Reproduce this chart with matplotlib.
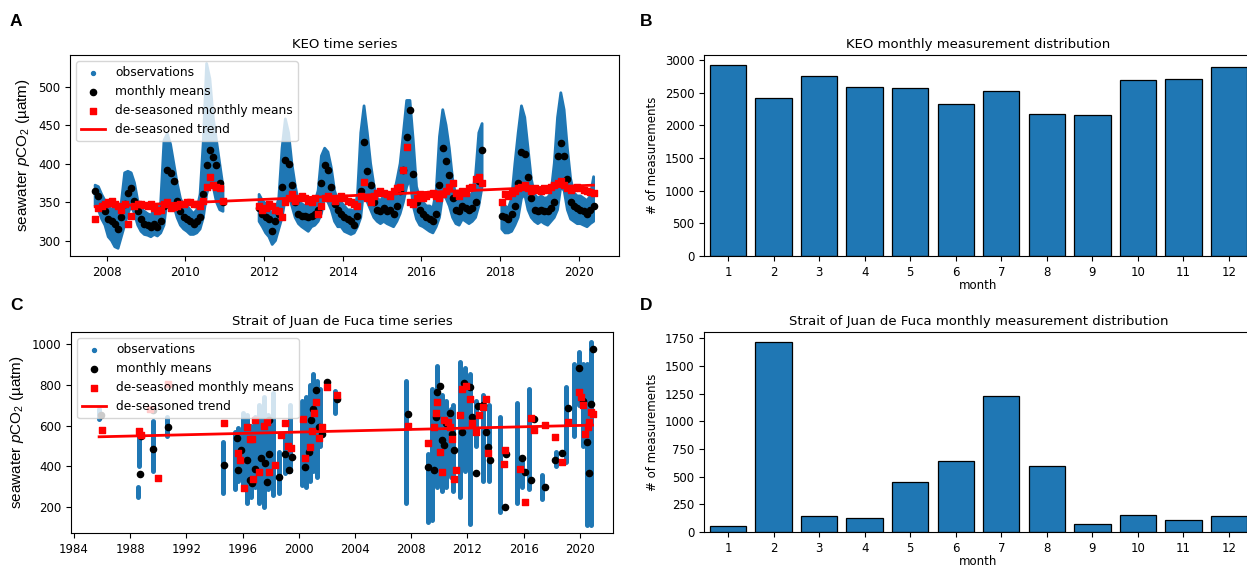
import numpy as np
import matplotlib.pyplot as plt
from matplotlib.ticker import MultipleLocator

plt.rcParams['font.family'] = 'DejaVu Sans'
plt.rcParams['font.size'] = 8.5
plt.rcParams['mathtext.fontset'] = 'custom'
plt.rcParams['mathtext.rm'] = 'Liberation Sans'
plt.rcParams['mathtext.it'] = 'Liberation Sans:italic'

N = np.nan

# ---- KEO: monthly values, one row per year (Jan..Dec), 2007-2020
keo_start_year = 2007
keo_mean = [
    N, N, N, N, N, N, N, N, 365, 358, 345, 338,
    328, 325, 322, 315, 330, 348, 362, 368, 352, 338, 328, 322,
    320, 318, 322, 318, 325, 345, 392, 388, 378, 352, 338, 330,
    328, 325, 322, 325, 330, 360, 398, 418, 408, 398, 375, 350,
    N, N, N, N, N, N, N, N, N, N, 342, 335,
    330, 328, 313, 325, 335, 370, 405, 400, 372, 350, 335, 332,
    332, 330, 332, 335, 340, 375, 398, 392, 370, 348, 340, 335,
    330, 328, 325, 320, 332, 365, 428, 390, 372, 350, 340, 338,
    342, 338, 340, 335, 345, 365, 392, 434, 470, 386, 350, 340,
    335, 330, 328, 325, 335, 372, 420, 403, 385, 355, 340, 338,
    345, 342, 340, 342, 350, 378, 418, N, N, N, N, N,
    332, 330, 328, 335, 345, 375, 415, 412, 382, 355, 340, 338,
    340, 338, 338, 342, 350, 410, 427, 410, 380, 350, 345, 342,
    340, 338, 335, 340, 345, N, N, N, N, N, N, N,
]
keo_obs_lo = [
    N, N, N, N, N, N, N, N, 345, 340, 328, 320,
    305, 300, 292, 290, 305, 320, 335, 345, 335, 320, 312, 308,
    307, 305, 308, 306, 310, 320, 355, 350, 345, 330, 320, 315,
    312, 308, 308, 310, 315, 330, 360, 375, 370, 350, 340, 338,
    N, N, N, N, N, N, N, N, N, N, 325, 318,
    310, 305, 295, 300, 315, 330, 355, 360, 345, 330, 322, 318,
    315, 312, 318, 320, 325, 335, 355, 350, 340, 325, 318, 318,
    312, 310, 308, 310, 318, 330, 370, 350, 340, 330, 325, 322,
    325, 322, 320, 318, 325, 335, 350, 370, 380, 345, 328, 320,
    318, 315, 312, 310, 318, 330, 360, 355, 345, 330, 322, 320,
    328, 325, 322, 325, 330, 345, 370, N, N, N, N, N,
    315, 310, 310, 312, 320, 330, 355, 360, 340, 330, 325, 322,
    325, 322, 320, 325, 330, 340, 370, 365, 340, 328, 325, 322,
    322, 320, 318, 322, 325, N, N, N, N, N, N, N,
]
keo_obs_hi = [
    N, N, N, N, N, N, N, N, 372, 370, 360, 352,
    345, 340, 345, 338, 350, 388, 390, 388, 375, 352, 342, 338,
    335, 333, 340, 338, 350, 430, 439, 425, 400, 375, 355, 345,
    345, 340, 335, 340, 360, 430, 530, 510, 460, 430, 400, 370,
    N, N, N, N, N, N, N, N, N, N, 360, 352,
    348, 345, 330, 340, 355, 420, 458, 440, 400, 372, 350, 348,
    345, 345, 348, 350, 365, 410, 420, 415, 395, 365, 352, 350,
    345, 340, 340, 338, 360, 440, 475, 440, 400, 372, 355, 352,
    358, 355, 360, 358, 378, 400, 440, 482, 482, 430, 370, 355,
    350, 345, 345, 342, 365, 435, 470, 450, 420, 380, 358, 352,
    360, 358, 356, 362, 385, 440, 452, N, N, N, N, N,
    348, 345, 342, 355, 400, 440, 475, 460, 420, 380, 360, 355,
    358, 355, 356, 362, 400, 460, 492, 470, 420, 380, 362, 358,
    358, 355, 352, 358, 383, N, N, N, N, N, N, N,
]
keo_deseason = [
    N, N, N, N, N, N, N, N, 328, 342, 345, 348,
    350, 352, 348, 345, 340, 347, 322, 332, 345, 348, 347, 346,
    345, 348, 342, 338, 340, 348, 350, 342, 343, 345, 347, 348,
    350, 350, 347, 348, 345, 352, 370, 383, 372, 370, 368, 352,
    N, N, N, N, N, N, N, N, N, N, 345, 340,
    342, 348, 345, 340, 338, 330, 350, 355, 360, 352, 355, 358,
    355, 352, 350, 355, 334, 345, 355, 358, 355, 352, 355, 358,
    355, 352, 350, 348, 345, 358, 376, 355, 350, 358, 362, 365,
    362, 360, 358, 365, 368, 370, 392, 421, 350, 348, 355, 360,
    355, 358, 360, 362, 358, 355, 360, 365, 370, 375, 362, 358,
    365, 362, 368, 370, 380, 383, 375, N, N, N, N, N,
    350, 360, 358, 362, 365, 368, 370, 372, 368, 365, 368, 366,
    365, 368, 366, 370, 372, 375, 378, 372, 368, 366, 368, 370,
    368, 366, 365, 363, 362, N, N, N, N, N, N, N,
]
keo_trend_year = [2007.71, 2020.37]
keo_trend = [344, 372]

# ---- Strait of Juan de Fuca: observation columns (time, low, high)
jdf_obs_year = [1985.8, 1988.6, 1988.65, 1989.6, 1990.6, 1994.6, 1995.5, 1995.7,
                1996.0, 1996.3, 1996.6, 1996.9, 1997.2, 1997.5, 1997.8, 1998.2,
                1998.6, 1999.0, 1999.4, 2000.2, 2000.5, 2000.8, 2001.0, 2001.3,
                2001.5, 2002.6, 2007.6, 2009.2, 2009.5, 2009.8, 2010.2, 2010.5,
                2010.8, 2011.0, 2011.5, 2011.8, 2012.2, 2012.6, 2013.1, 2013.5,
                2014.3, 2015.5, 2015.9, 2016.4, 2017.3, 2018.3, 2019.0, 2019.6,
                2019.9, 2020.2, 2020.5, 2020.8]
jdf_obs_lo = [630, 250, 400, 380, 550, 270, 290, 330,
              300, 220, 250, 300, 220, 200, 290, 260,
              270, 370, 380, 310, 300, 330, 380, 350,
              500, 660, 220, 130, 140, 300, 280, 300,
              350, 280, 250, 380, 120, 500, 330, 330,
              180, 220, 300, 290, 240, 400, 420, 550,
              700, 500, 115, 115]
jdf_obs_hi = [680, 300, 580, 620, 640, 520, 570, 590,
              660, 650, 600, 640, 700, 740, 650, 760,
              470, 560, 700, 720, 740, 800, 850, 820,
              780, 770, 820, 460, 780, 890, 750, 720,
              680, 700, 910, 880, 850, 720, 750, 700,
              640, 710, 420, 780, 360, 470, 790, 900,
              960, 900, 900, 1010]

jdf_mean_year = [1985.9, 1988.7, 1988.75, 1989.6, 1989.65, 1990.7, 1994.65, 1995.6,
                 1995.65, 1995.9, 1996.35, 1996.5, 1996.7, 1996.9, 1997.3, 1997.6,
                 1997.75, 1997.85, 1997.9, 1998.6, 1999.0, 1999.3, 1999.55, 2000.45,
                 2000.7, 2000.9, 2001.0, 2001.2, 2001.45, 2001.65, 2002.0, 2002.7,
                 2007.8, 2009.2, 2009.6, 2009.75, 2009.8, 2010.05, 2010.2, 2010.3,
                 2010.5, 2010.75, 2010.9, 2011.05, 2011.6, 2011.75, 2012.15, 2012.3,
                 2012.6, 2012.75, 2013.1, 2013.3, 2013.45, 2013.6, 2014.7, 2014.72,
                 2015.85, 2016.1, 2016.55, 2016.7, 2017.5, 2018.2, 2018.75, 2019.15,
                 2019.95, 2020.2, 2020.5, 2020.65, 2020.8, 2020.9]
jdf_mean = [650, 361, 550, 485, 675, 594, 406, 541,
            382, 480, 431, 333, 317, 390, 439, 415,
            325, 626, 463, 350, 463, 382, 447, 398,
            472, 626, 683, 776, 594, 558, 813, 732,
            655, 398, 382, 642, 764, 792, 528, 504,
            610, 659, 558, 480, 569, 808, 789, 642,
            366, 694, 699, 569, 496, 431, 203, 463,
            439, 374, 333, 634, 301, 431, 468, 688,
            883, 720, 520, 366, 707, 976]

jdf_ds_year = [1986.0, 1988.65, 1988.75, 1989.4, 1990.0, 1990.7, 1994.65, 1995.65,
               1995.8, 1996.1, 1996.35, 1996.5, 1996.7, 1996.75, 1996.9, 1997.2,
               1997.5, 1997.75, 1997.9, 1998.3, 1998.75, 1999.0, 1999.2, 1999.45,
               2000.3, 2000.45, 2000.8, 2000.95, 2001.1, 2001.25, 2001.45, 2001.65,
               2002.0, 2002.7, 2007.8, 2009.2, 2009.6, 2009.75, 2009.8, 2010.05,
               2010.2, 2010.3, 2010.6, 2010.75, 2010.9, 2011.05, 2011.2, 2011.5,
               2011.6, 2011.9, 2012.15, 2012.3, 2012.6, 2012.85, 2013.1, 2013.3,
               2013.45, 2014.6, 2014.7, 2015.7, 2016.1, 2016.55, 2016.75, 2017.5,
               2018.2, 2018.75, 2019.15, 2019.95, 2020.1, 2020.2, 2020.35, 2020.55,
               2020.65, 2020.8, 2020.9]
jdf_ds = [577, 575, 555, 683, 346, 805, 613, 467,
          431, 293, 594, 532, 532, 341, 626, 374,
          597, 618, 374, 407, 553, 610, 501, 488,
          634, 439, 496, 574, 659, 715, 537, 594,
          789, 748, 597, 517, 594, 659, 715, 472,
          374, 626, 618, 594, 532, 338, 382, 650,
          780, 792, 732, 613, 569, 650, 691, 732,
          468, 411, 480, 390, 228, 639, 577, 602,
          545, 420, 618, 764, 740, 702, 561, 594,
          618, 667, 655]
jdf_trend_year = [1985.8, 2020.9]
jdf_trend = [545, 602]

# ---- monthly measurement counts
months = list(range(1, 13))
keo_counts = [2930, 2420, 2760, 2590, 2570, 2330, 2520, 2180, 2160, 2690, 2710, 2890]
jdf_counts = [50, 1720, 140, 125, 450, 640, 1225, 595, 70, 150, 110, 140]

blue = '#1f77b4'
W, H = 1247, 569


def box(left, top, right, bottom):
    return [left / W, 1 - bottom / H, (right - left) / W, (bottom - top) / H]


def panel_letter(x, y, s):
    fig.text(x / W, 1 - y / H, s, fontsize=12.5, fontweight='bold',
             family='Liberation Sans', ha='left', va='center')


def time_panel(ax, title):
    ax.set_title(title, fontsize=9.5, pad=5)
    ax.set_ylabel(r'seawater $p$CO$_2$ (µatm)', family='Liberation Sans', fontsize=11)
    ax.legend(loc='upper left', fontsize=8.8, handlelength=2.0)


fig = plt.figure(figsize=(W / 100, H / 100), dpi=100)

# A: KEO time series
axA = fig.add_axes(box(70, 55, 619, 256))
keo_t = keo_start_year + (np.arange(len(keo_mean)) + 0.5) / 12
axA.fill_between(keo_t, keo_obs_lo, keo_obs_hi, color=blue, lw=2, edgecolor=blue)
axA.scatter([], [], s=8, color=blue, label='observations')
axA.scatter(keo_t, keo_mean, s=20, color='black', label='monthly means', zorder=3)
axA.scatter(keo_t, keo_deseason, s=18, marker='s', color='red',
            label='de-seasoned monthly means', zorder=4)
axA.plot(keo_trend_year, keo_trend, color='red', lw=2, label='de-seasoned trend', zorder=5)
axA.set_xlim(2007.07, 2021.02)
axA.set_ylim(280, 541)
axA.xaxis.set_major_locator(MultipleLocator(2))
axA.xaxis.set_major_formatter(lambda v, p: f'{v:.0f}')
time_panel(axA, 'KEO time series')

# C: Juan de Fuca time series
axC = fig.add_axes(box(71, 332, 613, 533))
axC.vlines(jdf_obs_year, jdf_obs_lo, jdf_obs_hi, color=blue, lw=3.6, capstyle='round')
axC.scatter([], [], s=8, color=blue, label='observations')
axC.scatter(jdf_mean_year, jdf_mean, s=20, color='black', label='monthly means', zorder=3)
axC.scatter(jdf_ds_year, jdf_ds, s=18, marker='s', color='red',
            label='de-seasoned monthly means', zorder=4)
axC.plot(jdf_trend_year, jdf_trend, color='red', lw=2, label='de-seasoned trend', zorder=5)
axC.set_xlim(1983.8, 2022.35)
axC.set_ylim(75, 1057)
axC.xaxis.set_major_locator(MultipleLocator(4))
axC.xaxis.set_major_formatter(lambda v, p: f'{v:.0f}')
time_panel(axC, 'Strait of Juan de Fuca time series')

# B and D: monthly distributions
axB = fig.add_axes(box(704, 55, 1253, 256))
axD = fig.add_axes(box(704, 332, 1253, 532))
for ax, counts, title in [(axB, keo_counts, 'KEO monthly measurement distribution'),
                          (axD, jdf_counts, 'Strait of Juan de Fuca monthly measurement distribution')]:
    ax.bar(months, counts, width=0.8, color=blue, edgecolor='black', linewidth=0.9)
    ax.set_xlim(0.47, 12.53)
    ax.set_xticks(months)
    ax.set_title(title, fontsize=9.5, pad=5)
    ax.set_xlabel('month', fontsize=8.5, labelpad=0)
    ax.set_ylabel('# of measurements', fontsize=8.5)
axD.set_yticks(range(0, 1751, 250))

panel_letter(10, 22, 'A')
panel_letter(640, 22, 'B')
panel_letter(10, 305, 'C')
panel_letter(640, 305, 'D')

fig.savefig('out.png', dpi=100)
